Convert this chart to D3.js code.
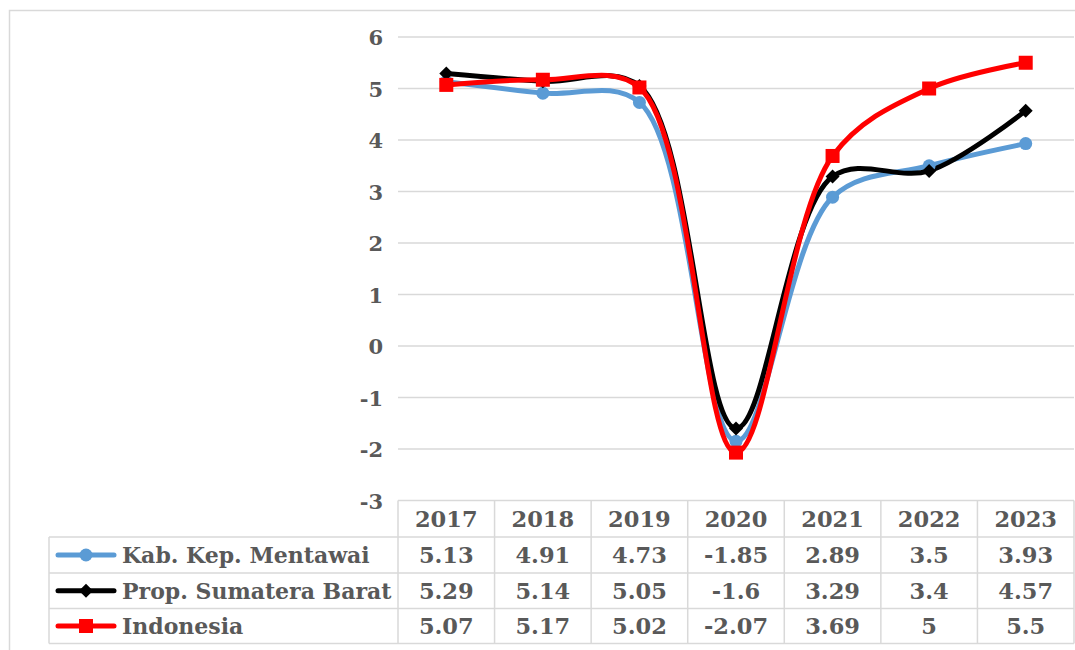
<!DOCTYPE html>
<html>
<head>
<meta charset="utf-8">
<script src="https://cdn.jsdelivr.net/npm/d3@7"></script>
<style>
  html, body { margin: 0; padding: 0; background: #fff; }
  svg { display: block; }
</style>
</head>
<body>
<svg id="chart" width="1075" height="650"></svg>
<script>
const years = ["2017", "2018", "2019", "2020", "2021", "2022", "2023"];
const seriesNames = ["Kab. Kep. Mentawai", "Prop. Sumatera Barat", "Indonesia"];
const mentawai = [5.13, 4.91, 4.73, -1.85, 2.89, 3.5, 3.93];
const sumbar = [5.29, 5.14, 5.05, -1.6, 3.29, 3.4, 4.57];
const indonesia = [5.07, 5.17, 5.02, -2.07, 3.69, 5, 5.5];
const tableLabels = [
  ["5.13", "4.91", "4.73", "-1.85", "2.89", "3.5", "3.93"],
  ["5.29", "5.14", "5.05", "-1.6", "3.29", "3.4", "4.57"],
  ["5.07", "5.17", "5.02", "-2.07", "3.69", "5", "5.5"]
];
const yTicks = [-3, -2, -1, 0, 1, 2, 3, 4, 5, 6];

const colors = ["#5b9bd5", "#000000", "#ff0000"];
const markers = ["circle", "diamond", "square"];
const seriesValues = [mentawai, sumbar, indonesia];

const svg = d3.select("#chart");
const textColor = "#595959";
const gridColor = "#d9d9d9";

// outer chart border
svg.append("rect").attr("x", 9.5).attr("y", 10.5).attr("width", 1080).attr("height", 660)
  .attr("fill", "none").attr("stroke", gridColor).attr("stroke-width", 1.5);

const plotLeft = 398, plotRight = 1074, plotTop = 37, plotBottom = 500.5;

const x = d3.scaleBand().domain(years).range([plotLeft, plotRight]);
const y = d3.scaleLinear().domain([-3, 6]).range([plotBottom, plotTop]);

// gridlines
svg.append("g").selectAll("line").data(yTicks.filter(d => d !== -3)).join("line")
  .attr("x1", plotLeft).attr("x2", plotRight)
  .attr("y1", d => y(d)).attr("y2", d => y(d))
  .attr("stroke", gridColor).attr("stroke-width", 1.3);

const fontSerif = "DejaVu Serif, serif";

// y axis labels
const yAxis = d3.axisLeft(y).tickValues(yTicks).tickSize(0).tickPadding(0).tickFormat(d => String(d));
const yg = svg.append("g").attr("transform", `translate(383,0)`).call(yAxis);
yg.select(".domain").remove();
yg.selectAll("text")
  .attr("font-family", fontSerif)
  .attr("font-weight", "bold").attr("font-size", 21).attr("fill", textColor)
  .attr("dy", "0.36em");

// lines
const line = d3.line()
  .x((d, i) => x(years[i]) + x.bandwidth() / 2)
  .y(d => y(d))
  .curve(d3.curveCatmullRom.alpha(0.5));

const order = [0, 1, 2];
order.forEach(si => {
  svg.append("path").datum(seriesValues[si])
    .attr("d", line).attr("fill", "none")
    .attr("stroke", colors[si]).attr("stroke-width", 5)
    .attr("stroke-linejoin", "round").attr("stroke-linecap", "round");
});

function drawMarker(g, type, cx, cy, color, scale) {
  const s = scale || 1;
  if (type === "circle") {
    g.append("circle").attr("cx", cx).attr("cy", cy).attr("r", 6.5 * s).attr("fill", color);
  } else if (type === "diamond") {
    const r = 7 * s;
    g.append("path").attr("d", `M${cx},${cy - r}L${cx + r},${cy}L${cx},${cy + r}L${cx - r},${cy}Z`).attr("fill", color);
  } else {
    const r = 7 * s;
    g.append("rect").attr("x", cx - r).attr("y", cy - r).attr("width", 2 * r).attr("height", 2 * r).attr("fill", color);
  }
}

const mg = svg.append("g");
order.forEach(si => {
  seriesValues[si].forEach((v, i) => {
    drawMarker(mg, markers[si], x(years[i]) + x.bandwidth() / 2, y(v), colors[si]);
  });
});

// data table
const rowH = [36.5, 36, 35.5, 35];
const tableTop = plotBottom;
const rowTops = [tableTop];
rowH.forEach((h, i) => rowTops.push(rowTops[i] + h));
const legendLeft = 49;
const tg = svg.append("g");
const tableStroke = "#d9d9d9";

tg.append("line").attr("x1", plotLeft).attr("x2", plotRight).attr("y1", rowTops[0]).attr("y2", rowTops[0])
  .attr("stroke", tableStroke).attr("stroke-width", 1.5);
for (let r = 1; r <= 4; r++) {
  tg.append("line").attr("x1", legendLeft).attr("x2", plotRight).attr("y1", rowTops[r]).attr("y2", rowTops[r])
    .attr("stroke", tableStroke).attr("stroke-width", 1.5);
}
tg.append("line").attr("x1", legendLeft).attr("x2", legendLeft).attr("y1", rowTops[1]).attr("y2", rowTops[4])
  .attr("stroke", tableStroke).attr("stroke-width", 1.5);
years.forEach(yr => {
  tg.append("line").attr("x1", x(yr)).attr("x2", x(yr)).attr("y1", rowTops[0]).attr("y2", rowTops[4])
    .attr("stroke", tableStroke).attr("stroke-width", 1.5);
});
tg.append("line").attr("x1", plotRight).attr("x2", plotRight).attr("y1", rowTops[0]).attr("y2", rowTops[4])
  .attr("stroke", tableStroke).attr("stroke-width", 1.5);

const numSize = 22.5, nameSize = 22;
years.forEach(yr => {
  tg.append("text").attr("x", x(yr) + x.bandwidth() / 2).attr("y", (rowTops[0] + rowTops[1]) / 2)
    .attr("dy", "0.36em").attr("text-anchor", "middle")
    .attr("font-family", fontSerif).attr("font-weight", "bold").attr("font-size", numSize)
    .attr("fill", textColor).text(yr);
});
seriesNames.forEach((name, si) => {
  const cy = (rowTops[si + 1] + rowTops[si + 2]) / 2;
  tg.append("line").attr("x1", 58).attr("x2", 114).attr("y1", cy).attr("y2", cy)
    .attr("stroke", colors[si]).attr("stroke-width", 5).attr("stroke-linecap", "round");
  drawMarker(tg, markers[si], 86, cy, colors[si]);
  tg.append("text").attr("x", 122).attr("y", cy).attr("dy", "0.36em")
    .attr("font-family", fontSerif).attr("font-weight", "bold").attr("font-size", nameSize)
    .attr("fill", textColor).text(name);
  tableLabels[si].forEach((lab, i) => {
    tg.append("text").attr("x", x(years[i]) + x.bandwidth() / 2).attr("y", cy)
      .attr("dy", "0.36em").attr("text-anchor", "middle")
      .attr("font-family", fontSerif).attr("font-weight", "bold").attr("font-size", numSize)
      .attr("fill", textColor).text(lab);
  });
});
</script>
</body>
</html>
